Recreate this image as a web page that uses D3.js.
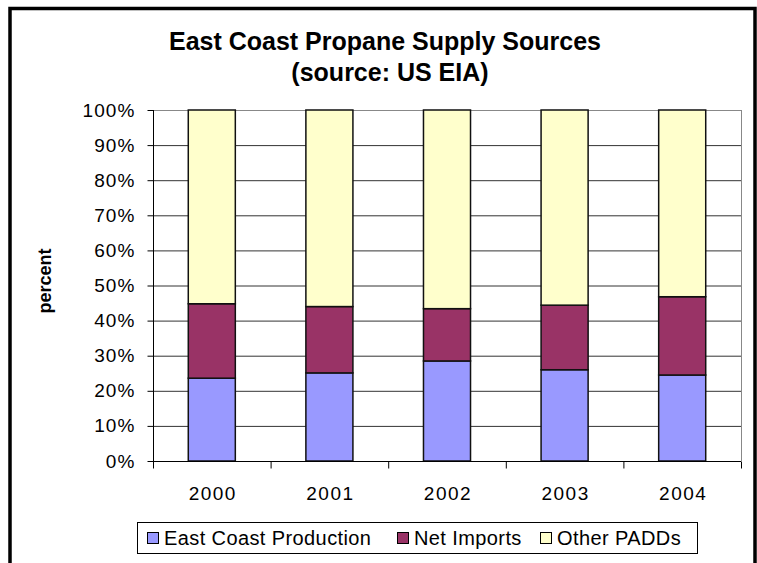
<!DOCTYPE html>
<html>
<head>
<meta charset="utf-8">
<script src="https://cdn.jsdelivr.net/npm/d3@7"></script>
<style>
  body { margin: 0; background: #fff; }
  svg { display: block; font-family: "Liberation Sans", Arial, sans-serif; }
</style>
</head>
<body>
<svg id="chart" width="757" height="563"></svg>
<script>
// values, percent of supply
const years = ["2000", "2001", "2002", "2003", "2004"];
const eastCoastProduction = [23.6, 25.1, 28.5, 26.0, 24.5];
const netImports = [21.2, 18.9, 14.9, 18.4, 22.3];
const otherPADDs = [55.2, 56.0, 56.6, 55.6, 53.2];
const seriesNames = ["East Coast Production", "Net Imports", "Other PADDs"];
const seriesColors = ["#9999FF", "#993366", "#FFFFCC"];
const yTicks = [0, 10, 20, 30, 40, 50, 60, 70, 80, 90, 100];

const svg = d3.select("#chart");

// chart frame
svg.append("rect")
  .attr("x", 10).attr("y", 8.5)
  .attr("width", 745).attr("height", 600)
  .attr("fill", "#fff")
  .attr("stroke", "#000")
  .attr("stroke-width", 3.5);

const plot = { left: 153, right: 741, top: 110, bottom: 461 };

const x = d3.scaleBand()
  .domain(years)
  .range([plot.left, plot.right])
  .paddingInner(0.6)
  .paddingOuter(0.3);

const y = d3.scaleLinear()
  .domain([0, 100])
  .range([plot.bottom, plot.top]);

// gridlines
svg.append("g")
  .selectAll("line")
  .data(yTicks.filter(t => t > 0))
  .join("line")
  .attr("x1", plot.left).attr("x2", plot.right)
  .attr("y1", d => y(d) + 0.5).attr("y2", d => y(d) + 0.5)
  .attr("stroke", d => d === 100 ? "#888" : "#333")
  .attr("stroke-width", 1);

// right edge of plot area
svg.append("line")
  .attr("x1", plot.right + 0.5).attr("x2", plot.right + 0.5)
  .attr("y1", plot.top).attr("y2", plot.bottom)
  .attr("stroke", "#888");

// stacked bars
const rows = years.map((yr, i) => ({
  year: yr,
  "East Coast Production": eastCoastProduction[i],
  "Net Imports": netImports[i],
  "Other PADDs": otherPADDs[i]
}));
const stack = d3.stack().keys(seriesNames)(rows);

svg.append("g")
  .selectAll("g")
  .data(stack)
  .join("g")
  .attr("fill", (d, i) => seriesColors[i])
  .selectAll("rect")
  .data(d => d)
  .join("rect")
  .attr("x", d => x(d.data.year))
  .attr("y", d => y(Math.min(d[1], 100)))
  .attr("width", x.bandwidth())
  .attr("height", d => y(d[0]) - y(Math.min(d[1], 100)))
  .attr("stroke", "#111")
  .attr("stroke-width", 1.5);

// y axis
const yAxis = svg.append("g")
  .attr("transform", `translate(${plot.left + 0.5},0)`)
  .call(d3.axisLeft(y).tickValues(yTicks).tickFormat(d => d + "%").tickSize(6).tickPadding(12));
yAxis.select(".domain").attr("stroke", "#000").attr("d", `M0,${plot.top}V${plot.bottom}`);
yAxis.selectAll(".tick line").attr("stroke", "#000");
yAxis.selectAll("text")
  .attr("font-size", 19)
  .attr("letter-spacing", 1.1)
  .attr("fill", "#000")
  .attr("font-family", "Liberation Sans, Arial, sans-serif");

// x axis
const xAxis = svg.append("g")
  .attr("transform", `translate(0,${plot.bottom + 0.5})`)
  .call(d3.axisBottom(x).tickSize(0).tickPadding(25));
xAxis.select(".domain").attr("stroke", "#000").attr("d", `M${plot.left},0H${plot.right}`);
xAxis.selectAll("text")
  .attr("font-size", 19)
  .attr("letter-spacing", 1.5)
  .attr("dx", 1)
  .attr("fill", "#000")
  .attr("font-family", "Liberation Sans, Arial, sans-serif");

// category separators below the axis
const step = (plot.right - plot.left) / years.length;
xAxis.selectAll(".sep")
  .data(d3.range(years.length + 1))
  .join("line")
  .attr("class", "sep")
  .attr("x1", d => plot.left + d * step + 0.5)
  .attr("x2", d => plot.left + d * step + 0.5)
  .attr("y1", 0).attr("y2", 7)
  .attr("stroke", "#000");

// titles
svg.append("text")
  .attr("x", 385).attr("y", 50)
  .attr("text-anchor", "middle")
  .attr("font-size", 25).attr("font-weight", "bold")
  .text("East Coast Propane Supply Sources");
svg.append("text")
  .attr("x", 390).attr("y", 81)
  .attr("text-anchor", "middle")
  .attr("font-size", 25).attr("font-weight", "bold")
  .text("(source: US EIA)");

svg.append("text")
  .attr("transform", "translate(51,281) rotate(-90)")
  .attr("text-anchor", "middle")
  .attr("font-size", 18).attr("font-weight", "bold")
  .text("percent");

// legend
const legend = svg.append("g");
legend.append("rect")
  .attr("x", 137.5).attr("y", 522.5)
  .attr("width", 560).attr("height", 31)
  .attr("fill", "#fff").attr("stroke", "#000");

const legendX = [147, 397, 540];
const items = legend.selectAll("g.item")
  .data(seriesNames)
  .join("g")
  .attr("class", "item")
  .attr("transform", (d, i) => `translate(${legendX[i]},532)`);
items.append("rect")
  .attr("x", 0.5).attr("y", 0.5)
  .attr("width", 11).attr("height", 11)
  .attr("fill", (d, i) => seriesColors[i])
  .attr("stroke", "#000");
items.append("text")
  .attr("x", 17).attr("y", 13)
  .attr("font-size", 20)
  .attr("letter-spacing", 0.4)
  .text(d => d);
</script>
</body>
</html>
